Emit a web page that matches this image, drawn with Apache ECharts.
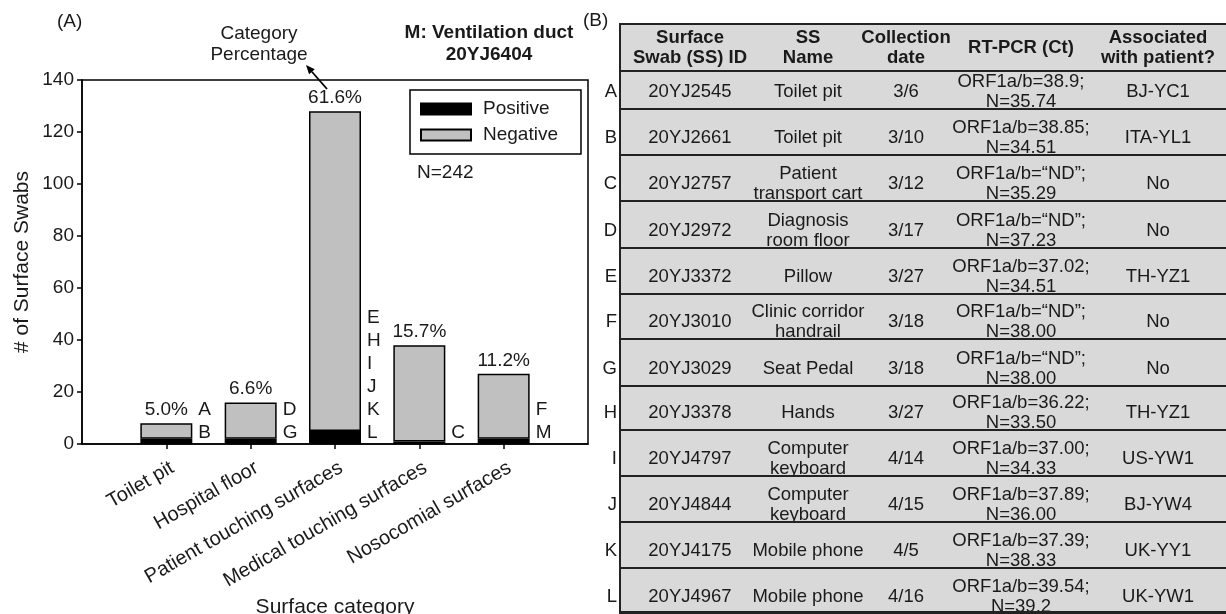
<!DOCTYPE html>
<html><head><meta charset="utf-8">
<script src="https://cdn.jsdelivr.net/npm/echarts/dist/echarts.min.js"></script>
<style>
html,body{margin:0;padding:0;background:#fff;}
#wrap{position:relative;width:1226px;height:614px;overflow:hidden;font-family:"Liberation Sans",Arial,sans-serif;color:#1a1a1a;}
#chart{position:absolute;left:0;top:0;width:1226px;height:614px;}
#table{position:absolute;left:0;top:0;width:1226px;height:614px;pointer-events:none;}
.row{position:absolute;left:619px;width:620px;background:#d9d9d9;border-top:2px solid #222;box-sizing:border-box;}
.vline{position:absolute;left:619px;width:2px;background:#222;}
.cell{position:absolute;width:220px;height:60px;display:flex;flex-direction:column;justify-content:center;align-items:center;text-align:center;font-size:18.5px;line-height:20px;white-space:nowrap;color:#1a1a1a;}
.hdr{font-weight:bold;}
.lab{position:absolute;width:30px;height:24px;line-height:24px;text-align:right;font-size:18.5px;color:#1a1a1a;}
</style>
</head><body>
<div id="wrap"><div id="chart"></div><div id="table"></div></div>
<script>
// ---------- Panel A data ----------
const categories = ['Toilet pit','Hospital floor','Patient touching surfaces','Medical touching surfaces','Nosocomial surfaces'];
const positive = [2, 2, 5, 1, 2];
const negative = [6, 14, 123, 37, 25];
const pctLabels = ['5.0%','6.6%','61.6%','15.7%','11.2%'];
const swabLetters = [['B','A'], ['G','D'], ['L','K','J','I','H','E'], ['C'], ['M','F']]; // bottom to top
const yTicks = {min:0, max:140, interval:20};

// ---------- Panel B data ----------
const tableHeader = ['Surface\nSwab (SS) ID','SS\nName','Collection\ndate','RT-PCR (Ct)','Associated\nwith patient?'];
const ssLetters = ['A','B','C','D','E','F','G','H','I','J','K','L'];
const ssIds = ['20YJ2545','20YJ2661','20YJ2757','20YJ2972','20YJ3372','20YJ3010','20YJ3029','20YJ3378','20YJ4797','20YJ4844','20YJ4175','20YJ4967'];
const ssNames = ['Toilet pit','Toilet pit','Patient\ntransport cart','Diagnosis\nroom floor','Pillow','Clinic corridor\nhandrail','Seat Pedal','Hands','Computer\nkeyboard','Computer\nkeyboard','Mobile phone','Mobile phone'];
const ssDates = ['3/6','3/10','3/12','3/17','3/27','3/18','3/18','3/27','4/14','4/15','4/5','4/16'];
const ssPcr = ['ORF1a/b=38.9;\nN=35.74','ORF1a/b=38.85;\nN=34.51','ORF1a/b=“ND”;\nN=35.29','ORF1a/b=“ND”;\nN=37.23','ORF1a/b=37.02;\nN=34.51','ORF1a/b=“ND”;\nN=38.00','ORF1a/b=“ND”;\nN=38.00','ORF1a/b=36.22;\nN=33.50','ORF1a/b=37.00;\nN=34.33','ORF1a/b=37.89;\nN=36.00','ORF1a/b=37.39;\nN=38.33','ORF1a/b=39.54;\nN=39.2'];
const ssAssoc = ['BJ-YC1','ITA-YL1','No','No','TH-YZ1','No','No','TH-YZ1','US-YW1','BJ-YW4','UK-YY1','UK-YW1'];

// ---------- chart ----------
const TXT = '#1a1a1a';
const FONT = '"Liberation Sans", Arial, sans-serif';
const chart = echarts.init(document.getElementById('chart'));
const axisCats = [''].concat(categories, ['']);
const pad = arr => [null].concat(arr, [null]);
const lineStyle = {color:'#000', width:1.5};

const option = {
  animation:false,
  textStyle:{fontFamily:FONT},
  grid:{left:82, right:638, top:80, bottom:170, show:true, borderColor:'#000', borderWidth:1.5, containLabel:false, outerBoundsMode:'none'},
  legend:{orient:'vertical', left:410, top:90, data:['Positive','Negative'], itemWidth:50, itemHeight:11, itemGap:6,
    padding:[9,23,9,10], borderColor:'#000', borderWidth:1.5, selectedMode:false, icon:'rect',
    textStyle:{fontSize:19, color:TXT, fontFamily:FONT, lineHeight:20, padding:[0,0,0,7]}},
  xAxis:{type:'category', data:axisCats, boundaryGap:false,
    axisLine:{lineStyle:lineStyle},
    axisTick:{show:true, length:5, interval:(i)=>i>0 && i<axisCats.length-1, lineStyle:lineStyle},
    axisLabel:{interval:0, rotate:30, fontSize:20, color:TXT, fontFamily:FONT, margin:26, padding:[0,-7,0,0]},
    splitLine:{show:false},
    name:'Surface category', nameLocation:'middle', nameGap:149,
    nameTextStyle:{fontSize:21, color:TXT, fontFamily:FONT}},
  yAxis:{type:'value', min:yTicks.min, max:yTicks.max, interval:yTicks.interval,
    axisLine:{show:true, lineStyle:lineStyle},
    axisTick:{show:true, length:5, lineStyle:lineStyle},
    splitLine:{show:false},
    axisLabel:{fontSize:19, color:TXT, fontFamily:FONT, margin:8},
    name:'# of Surface Swabs', nameLocation:'middle', nameGap:49,
    nameTextStyle:{fontSize:21, color:TXT, fontFamily:FONT}},
  series:[
    {name:'Positive', type:'bar', stack:'s', barWidth:52, data:pad(positive),
      itemStyle:{color:'#000', borderColor:'#000', borderWidth:1.5}},
    {name:'Negative', type:'bar', stack:'s', barWidth:52, data:pad(negative),
      itemStyle:{color:'#c0c0c0', borderColor:'#000', borderWidth:1.5},
      label:{show:true, position:'top', distance:4, fontSize:19, color:TXT, fontFamily:FONT,
        formatter:p=>pctLabels[p.dataIndex-1] || ''}}
  ]
};
chart.setOption(option);

// annotations
const g = [];
const txt = (x,y,text,extra) => g.push({type:'text', x:x, y:y, style:Object.assign({text:text, fill:TXT, font:'19px '+FONT, textAlign:'left', textVerticalAlign:'middle'}, extra||{})});
txt(57, 22, '(A)');
txt(583, 21, '(B)');
txt(259, 44, 'Category\nPercentage', {textAlign:'center', lineHeight:21});
txt(489, 44, 'M: Ventilation duct\n20YJ6404', {textAlign:'center', lineHeight:22, font:'bold 19px '+FONT});
txt(417, 173, 'N=242');
// arrow
const a0 = [327, 89], a1 = [306, 65];
const dx = a1[0]-a0[0], dy = a1[1]-a0[1], L = Math.hypot(dx,dy), ux = dx/L, uy = dy/L;
const bx = a1[0]-9*ux, by = a1[1]-9*uy, nx = -uy, ny = ux;
g.push({type:'line', shape:{x1:a0[0], y1:a0[1], x2:bx, y2:by}, style:{stroke:'#000', lineWidth:1.8}});
g.push({type:'polygon', shape:{points:[[a1[0],a1[1]],[bx+3.8*nx,by+3.8*ny],[bx-3.8*nx,by-3.8*ny]]}, style:{fill:'#000'}});
// swab letters next to bars
swabLetters.forEach((letters, ci) => {
  const p = chart.convertToPixel({xAxisIndex:0, yAxisIndex:0}, [ci+1, 0]);
  letters.forEach((t, k) => {
    txt(p[0] + 26 + 6, p[1] - 11 - 23*k, t);
  });
});
chart.setOption({graphic:g});

// ---------- table ----------
const tbl = document.getElementById('table');
const rowTop = 23, hdrBottom = 70;
const rowBottoms = [108,154,200,247,293,338,385,429,475,521,567,613];
const colCenters = [690, 808, 906, 1021, 1158];
function addRow(top, bottom){
  const d = document.createElement('div'); d.className='row';
  d.style.top = top+'px'; d.style.height = (bottom-top+2)+'px';
  tbl.appendChild(d);
}
function addCell(cx, cy, text, cls){
  const c = document.createElement('div'); c.className = 'cell' + (cls ? ' '+cls : '');
  c.style.left = (cx-110)+'px'; c.style.top = (cy-30)+'px';
  text.split('\n').forEach(line => { const s = document.createElement('div'); s.textContent = line; c.appendChild(s); });
  tbl.appendChild(c);
}
addRow(rowTop, hdrBottom);
tableHeader.forEach((h,i)=>addCell(colCenters[i], 47, h, 'hdr'));
let prev = hdrBottom;
rowBottoms.forEach((b,r)=>{
  addRow(prev, b);
  const cy = b - 17;
  [ssIds[r], ssNames[r], ssDates[r], ssPcr[r], ssAssoc[r]].forEach((t,i)=>addCell(colCenters[i], cy, t));
  const l = document.createElement('div'); l.className='lab'; l.textContent = ssLetters[r];
  l.style.left = '587px'; l.style.top = (cy-12)+'px'; tbl.appendChild(l);
  prev = b;
});
const bl = document.createElement('div'); bl.className='row'; bl.style.top='611px'; bl.style.height='3px'; bl.style.background='#222'; tbl.appendChild(bl);
const vl = document.createElement('div'); vl.className='vline'; vl.style.top=rowTop+'px'; vl.style.height=(614-rowTop)+'px'; tbl.appendChild(vl);
</script>
</body></html>
